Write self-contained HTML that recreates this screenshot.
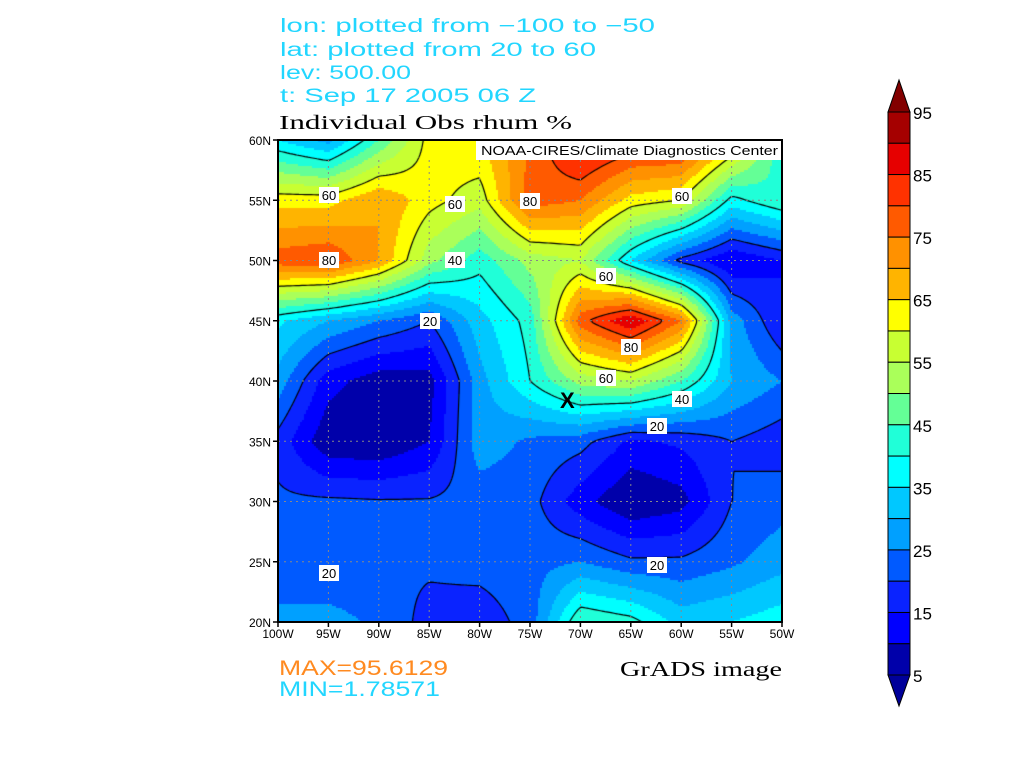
<!DOCTYPE html>
<html><head><meta charset="utf-8"><style>
html,body{margin:0;padding:0;background:#fff;}
#wrap{position:relative;width:1015px;height:784px;overflow:hidden;background:#fff;}
canvas{position:absolute;left:278px;top:140px;}
svg{position:absolute;left:0;top:0;}
</style></head><body><div id="wrap">
<canvas id="c" width="504" height="482"></canvas>
<svg width="1015" height="784" xmlns="http://www.w3.org/2000/svg" font-family="Liberation Sans, sans-serif">
<g fill="#22d6ff" font-size="19">
<text x="280" y="32" textLength="375" lengthAdjust="spacingAndGlyphs">lon: plotted from −100 to −50</text>
<text x="280" y="56" textLength="316" lengthAdjust="spacingAndGlyphs">lat: plotted from 20 to 60</text>
<text x="280" y="79" textLength="131" lengthAdjust="spacingAndGlyphs">lev: 500.00</text>
<text x="280" y="102" textLength="256" lengthAdjust="spacingAndGlyphs">t: Sep 17 2005 06 Z</text>
</g>
<text x="279" y="129" font-size="20" font-family="Liberation Serif, serif" textLength="293" lengthAdjust="spacingAndGlyphs">Individual Obs rhum %</text>
<rect x="476" y="141" width="305" height="19" fill="#fff"/>
<text x="481" y="155" font-size="13" textLength="297" lengthAdjust="spacingAndGlyphs">NOAA-CIRES/Climate Diagnostics Center</text>
<g id="grid" stroke="#888" stroke-width="1" stroke-dasharray="2,4"></g>
<g id="labs"></g>
<rect x="278" y="140" width="504" height="482" fill="none" stroke="#000" stroke-width="2"/>
<g id="ticks" stroke="#000" stroke-width="1.5"></g>
<g id="axt" font-size="12" fill="#000"></g>
<text x="560" y="408" font-size="22" font-weight="bold">X</text>
<text x="279" y="675" fill="#ff8a20" font-size="21" textLength="169" lengthAdjust="spacingAndGlyphs">MAX=95.6129</text>
<text x="279" y="696" fill="#22d6ff" font-size="21" textLength="161" lengthAdjust="spacingAndGlyphs">MIN=1.78571</text>
<text x="620" y="676" font-size="21" font-family="Liberation Serif, serif" textLength="162" lengthAdjust="spacingAndGlyphs">GrADS image</text>
<g id="cbar"></g>
</svg>
</div>
<script>
var cols=['#00009a','#0000aa','#0000ff','#0a23ff','#005aff','#00a0ff','#00c8ff','#00ffff','#20ffd8','#64ff96','#aaff5a','#c8ff32','#ffff00','#ffb400','#ff9100','#ff5a00','#ff3200','#e60000','#a50000','#820000'];
function col(v){var i=Math.floor((v-5)/5)+1;if(i<0)i=0;if(i>19)i=19;return cols[i];}
var D=[
[35,28,45,62,65,75,90,85,85,68,40],
[63,63,70,62,57,78,75,63,60,38,45],
[78,80,70,52,42,52,55,35,18,10,15],
[36,30,25,20,33,42,78,90,75,28,15],
[28,12,7,8,28,40,52,55,45,30,25],
[18,6,5,10,28,24,22,14,16,20,17],
[21,21,20.5,20.5,22,22,12,5,8,20,23],
[20.5,20.5,20.5,21,22,23,25,21,21,24,28],
[27,27,24,18,17,22,45,42,33,35,38]];
var W=504,H=482;
function val(px,py){var gx=px/W*10,gy=py/H*8;var i=Math.max(0,Math.min(9,Math.floor(gx))),j=Math.max(0,Math.min(7,Math.floor(gy)));var fx=gx-i,fy=gy-j;
return D[j][i]*(1-fx)*(1-fy)+D[j][i+1]*fx*(1-fy)+D[j+1][i]*(1-fx)*fy+D[j+1][i+1]*fx*fy;}
var ctx=document.getElementById('c').getContext('2d');
for(var y=0;y<H;y+=2)for(var x=0;x<W;x+=2){ctx.fillStyle=col(val(x+1,y+1));ctx.fillRect(x,y,2,2);}
ctx.strokeStyle='#000';ctx.lineWidth=1.2;
var S=3;
[20,40,60,80].forEach(function(L){ctx.beginPath();
for(var y=0;y<H;y+=S)for(var x=0;x<W;x+=S){
var a=val(x,y),b=val(x+S,y),c=val(x+S,y+S),d=val(x,y+S);var pts=[];
function e(v1,v2,x1,y1,x2,y2){if((v1<L)!=(v2<L)){var t=(L-v1)/(v2-v1);pts.push([x1+(x2-x1)*t,y1+(y2-y1)*t]);}}
e(a,b,x,y,x+S,y);e(b,c,x+S,y,x+S,y+S);e(c,d,x+S,y+S,x,y+S);e(d,a,x,y+S,x,y);
for(var k=0;k+1<pts.length;k+=2){ctx.moveTo(pts[k][0],pts[k][1]);ctx.lineTo(pts[k+1][0],pts[k+1][1]);}}
ctx.stroke();});
var NS='http://www.w3.org/2000/svg';
function el(p,t,a,txt){var e=document.createElementNS(NS,t);for(var k in a)e.setAttribute(k,a[k]);if(txt!=null)e.textContent=txt;document.getElementById(p).appendChild(e);return e;}
for(var i=1;i<10;i++){var x=278+i*50.4;el('grid','line',{x1:x,y1:160,x2:x,y2:622});}
for(var j=1;j<8;j++){var y=140+j*60.25;el('grid','line',{x1:278,y1:y,x2:782,y2:y});}
var lw=['100W','95W','90W','85W','80W','75W','70W','65W','60W','55W','50W'];
for(var i=0;i<=10;i++){var x=278+i*50.4;el('ticks','line',{x1:x,y1:622,x2:x,y2:627});el('axt','text',{x:x,y:638,'text-anchor':'middle'},lw[i]);}
var ln=['60N','55N','50N','45N','40N','35N','30N','25N','20N'];
for(var j=0;j<=8;j++){var y=140+j*60.25;el('ticks','line',{x1:273,y1:y,x2:278,y2:y});el('axt','text',{x:271,y:y+5,'text-anchor':'end'},ln[j]);}
var labs=[[60,329,195],[60,455,204],[80,530,201],[60,682,196],[80,329,260],[40,455,260],[20,430,321],[60,606,276],[80,631,347],[60,606,378],[40,682,399],[20,657,426],[20,657,565],[20,329,573]];
labs.forEach(function(l){el('labs','rect',{x:l[1]-10,y:l[2]-8,width:20,height:16,fill:'#fff'});el('labs','text',{x:l[1],y:l[2]+5,'text-anchor':'middle','font-size':13},l[0]);});
var cbT=112,bh=31.28;
el('cbar','polygon',{points:'888,'+cbT+' 910,'+cbT+' 899,80',fill:cols[19],stroke:'#000'});
for(var k=0;k<18;k++){var yy=cbT+k*bh;el('cbar','rect',{x:888,y:yy,width:22,height:bh,fill:cols[18-k],stroke:'#000','stroke-width':1});}
var cbB=cbT+18*bh;
el('cbar','polygon',{points:'888,'+cbB+' 910,'+cbB+' 899,706',fill:cols[0],stroke:'#000'});
for(var k=0;k<10;k++){el('cbar','text',{x:913,y:cbT+k*2*bh+7,'font-size':17},95-10*k);}
</script>
</body></html>
